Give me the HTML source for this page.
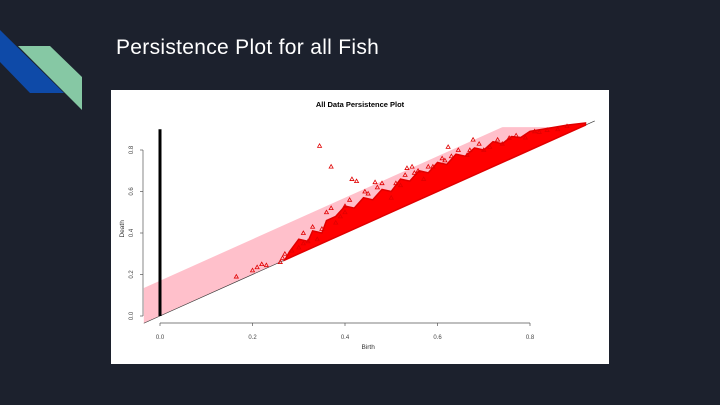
<!DOCTYPE html>
<html><head><meta charset="utf-8">
<style>
html,body{margin:0;padding:0;}
body{width:720px;height:405px;background:#1c212d;position:relative;overflow:hidden;font-family:"Liberation Sans",sans-serif;}
#title{position:absolute;left:116px;top:36px;color:#fff;font-size:21px;font-weight:300;letter-spacing:0.3px;}
#chart{position:absolute;left:111px;top:90px;}
</style></head><body>
<svg width="120" height="120" style="position:absolute;left:0;top:0">
<polygon points="0,30 0,62 30,93 64,93" fill="#0e4aa8"/>
<polygon points="18,46 50,46 82,77 82,110" fill="#86c8a4"/>
</svg>
<div id="title">Persistence Plot for all Fish</div>
<svg id="chart" width="498" height="274">
<rect x="0" y="0" width="498" height="274" fill="#fff"/>
<text x="249" y="17" font-size="7.5" font-weight="bold" text-anchor="middle" font-family="Liberation Sans,sans-serif">All Data Persistence Plot</text>
<g id="plot"></g>
</svg>
<script>
const xTicks=[0.0,0.2,0.4,0.6,0.8];
const yTicks=[0.0,0.2,0.4,0.6,0.8];
const bandWidth=0.17;
const infBirth=[0.0];
const infDeath=[0.9];
const denseBirth=[0.27,0.28,0.30,0.32,0.33,0.35,0.36,0.38,0.40,0.42,0.44,0.46,0.48,0.50,0.52,0.54,0.56,0.58,0.60,0.62,0.64,0.66,0.68,0.70,0.72,0.74,0.76,0.78,0.80,0.84,0.88,0.92];
const denseDeath=[0.27,0.31,0.37,0.36,0.41,0.40,0.46,0.48,0.53,0.52,0.57,0.56,0.61,0.60,0.66,0.65,0.70,0.69,0.74,0.73,0.78,0.77,0.81,0.80,0.84,0.83,0.865,0.86,0.89,0.905,0.92,0.93];
const birth=[0.345,0.37,0.415,0.165,0.2,0.21,0.22,0.23,0.26,0.265,0.27,0.285,0.30,0.31,0.32,0.34,0.35,0.38,0.39,0.40,0.425,0.465,0.48,0.443,0.40,0.534,0.545,0.558,0.623,0.645,0.677,0.755,0.79,0.616,0.664,0.713,0.82,0.837,0.50,0.52,0.57,0.59,0.70,0.74,0.86,0.88,0.36,0.37,0.41,0.45,0.47,0.51,0.53,0.55,0.58,0.61,0.63,0.67,0.69,0.73,0.77,0.81,0.33,0.31];
const death=[0.82,0.72,0.66,0.19,0.22,0.235,0.25,0.245,0.26,0.28,0.30,0.315,0.33,0.35,0.36,0.37,0.42,0.45,0.48,0.50,0.65,0.645,0.64,0.60,0.53,0.713,0.72,0.70,0.815,0.80,0.85,0.858,0.86,0.75,0.776,0.815,0.887,0.896,0.57,0.63,0.66,0.72,0.80,0.83,0.90,0.915,0.50,0.52,0.56,0.59,0.62,0.64,0.68,0.69,0.72,0.76,0.77,0.80,0.83,0.85,0.87,0.89,0.43,0.40];
const X0=49,XS=462.5,Y0=226,YS=207.5;
function xs(v){return X0+v*XS;}
function ys(v){return Y0-v*YS;}
const NS='http://www.w3.org/2000/svg';
const g=document.getElementById('plot');
function mk(t,a){const e=document.createElementNS(NS,t);for(const k in a)e.setAttribute(k,a[k]);g.appendChild(e);return e;}
const defs=mk('clipPath',{id:'cp'});
const cr=document.createElementNS(NS,'rect');cr.setAttribute('x',32);cr.setAttribute('y',ys(0.91));cr.setAttribute('width',460);cr.setAttribute('height',220);defs.appendChild(cr);
const bL=-0.035,bR=0.95;
let band=mk('polygon',{points:`${xs(bL)},${ys(bL)} ${xs(bR)},${ys(bR)} ${xs(bR)},${ys(bR+bandWidth)} ${xs(bL)},${ys(bL+bandWidth)}`,fill:'#ffc0cb','clip-path':'url(#cp)'});


let diag=mk('line',{x1:xs(bL),y1:ys(bL),x2:xs(0.94),y2:ys(0.94),stroke:'#333','stroke-width':0.6});


let pts=denseBirth.map((b,i)=>`${xs(b)},${ys(denseDeath[i])}`).join(' ');
pts+=` ${xs(denseBirth[denseBirth.length-1])},${ys(denseBirth[denseBirth.length-1])} ${xs(denseBirth[0])},${ys(denseBirth[0])}`;
let dense=mk('polygon',{points:pts,fill:'#ff0000',stroke:'#e00000','stroke-width':1.5});


birth.forEach((b,i)=>{const x=xs(b),y=ys(death[i]);
const t=mk('polygon',{points:`${x},${y-2} ${x-2},${y+1.5} ${x+2},${y+1.5}`,fill:'none',stroke:'#e00000','stroke-width':0.8});

});
infBirth.forEach((b,i)=>{const l=mk('line',{x1:xs(b),y1:ys(0),x2:xs(b),y2:ys(infDeath[i]),stroke:'#000','stroke-width':3});

});
let xa=mk('line',{x1:xs(0),y1:233,x2:xs(0.8),y2:233,stroke:'#555','stroke-width':0.7});


let ya=mk('line',{x1:32,y1:ys(0),x2:32,y2:ys(0.8),stroke:'#555','stroke-width':0.7});


xTicks.forEach(v=>{mk('line',{x1:xs(v),y1:233,x2:xs(v),y2:236,stroke:'#555','stroke-width':0.7});
const t=mk('text',{x:xs(v),y:249,'font-size':6,'text-anchor':'middle',fill:'#444'});t.textContent=v.toFixed(1);

});
yTicks.forEach(v=>{mk('line',{x1:29,y1:ys(v),x2:32,y2:ys(v),stroke:'#555','stroke-width':0.7});
const t=mk('text',{x:0,y:0,'font-size':6,'text-anchor':'middle',fill:'#444',transform:`translate(22,${ys(v)}) rotate(-90)`});t.textContent=v.toFixed(1);

});
let xt=mk('text',{x:xs(0.45),y:259,'font-size':6.5,'text-anchor':'middle',fill:'#333'});xt.textContent='Birth';


let yt=mk('text',{x:0,y:0,'font-size':6.5,'text-anchor':'middle',fill:'#333',transform:`translate(13,${ys(0.42)}) rotate(-90)`});yt.textContent='Death';


</script>
</body></html>
